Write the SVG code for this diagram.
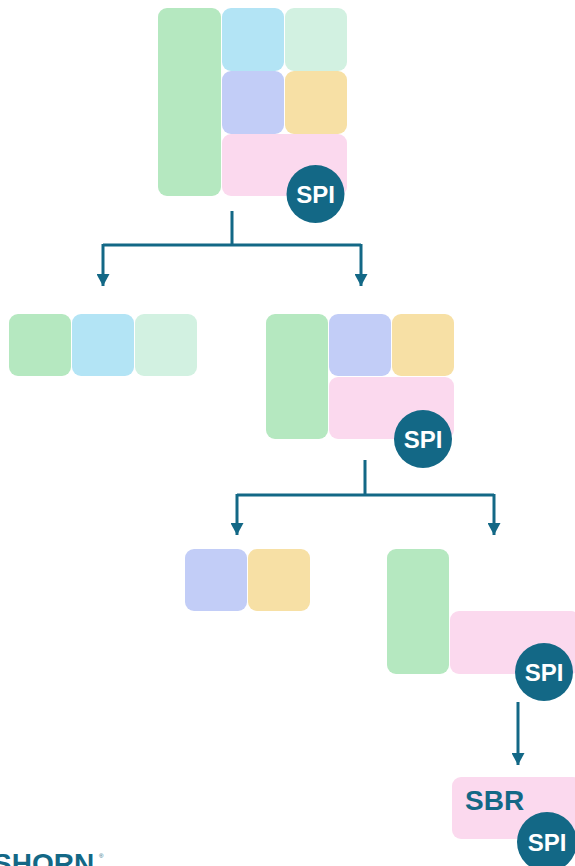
<svg xmlns="http://www.w3.org/2000/svg" width="575" height="866" viewBox="0 0 575 866">
<defs>
<style>
.g{fill:#b5e8c0}.b{fill:#b3e4f5}.l{fill:#d2f1e1}.p{fill:#c2cdf7}.o{fill:#f7e0a5}.k{fill:#fbd9ee}
.c{fill:#136886}
.t{font-family:"Liberation Sans",Arial,sans-serif;font-weight:bold;font-size:24px;fill:#ffffff;text-anchor:middle}
.e{fill:none;stroke:#136886;stroke-width:3}
</style>
<marker id="ah" markerWidth="12" markerHeight="13" refX="12" refY="6.5" orient="auto" markerUnits="userSpaceOnUse" viewBox="0 0 12 13">
<path d="M0,0 L12,6.5 L0,13 Z" fill="#136886"/>
</marker>
</defs>
<rect width="575" height="866" fill="#ffffff"/>
<g id="node-root">
<rect class="g" x="158" y="8" width="63" height="188" rx="9"/>
<rect class="b" x="222" y="8" width="62" height="63" rx="9"/>
<rect class="l" x="285" y="8" width="62" height="63" rx="9"/>
<rect class="p" x="222" y="71" width="62" height="63" rx="9"/>
<rect class="o" x="285" y="71" width="62" height="63" rx="9"/>
<rect class="k" x="222" y="134" width="125" height="62" rx="9"/>
<circle class="c" cx="315.5" cy="194" r="29"/>
<text class="t" x="315.5" y="202.5">SPI</text>
</g>
<g id="node-left1">
<rect class="g" x="9" y="314" width="62" height="62" rx="9"/>
<rect class="b" x="72" y="314" width="62" height="62" rx="9"/>
<rect class="l" x="135" y="314" width="62" height="62" rx="9"/>
</g>
<g id="node-right1">
<rect class="g" x="266" y="314" width="62" height="125" rx="9"/>
<rect class="p" x="329" y="314" width="62" height="62" rx="9"/>
<rect class="o" x="392" y="314" width="62" height="62" rx="9"/>
<rect class="k" x="329" y="377" width="125" height="62" rx="9"/>
<circle class="c" cx="423" cy="439" r="29"/>
<text class="t" x="423" y="447.5">SPI</text>
</g>
<g id="node-left2">
<rect class="p" x="185" y="549" width="62" height="62" rx="9"/>
<rect class="o" x="248" y="549" width="62" height="62" rx="9"/>
</g>
<g id="node-right2">
<rect class="g" x="387" y="549" width="62" height="125" rx="9"/>
<rect class="k" x="450" y="611" width="130" height="63" rx="9"/>
<circle class="c" cx="544" cy="672" r="29"/>
<text class="t" x="544" y="680.5">SPI</text>
</g>
<g id="node-sbr">
<rect class="k" x="452" y="777" width="130" height="62" rx="9"/>
<text x="465" y="810" font-family="'Liberation Sans',Arial,sans-serif" font-weight="bold" font-size="28" fill="#136886">SBR</text>
<circle class="c" cx="547" cy="842" r="30"/>
<text class="t" x="547" y="850.5">SPI</text>
</g>
<g id="logo">
<text x="-7" y="873" font-family="'Liberation Sans',Arial,sans-serif" font-weight="bold" font-size="28" fill="#136886">SHORN</text>
<text x="99" y="858" font-family="'Liberation Sans',Arial,sans-serif" font-size="6" fill="#136886">®</text>
</g>
<g id="connectors">
<path class="e" d="M232,211 V245 M103,245 H361"/>
<path class="e" d="M103,244 V286" marker-end="url(#ah)"/>
<path class="e" d="M361,244 V286" marker-end="url(#ah)"/>
<path class="e" d="M365,460 V495 M237,495 H494"/>
<path class="e" d="M237,494 V535" marker-end="url(#ah)"/>
<path class="e" d="M494,494 V535" marker-end="url(#ah)"/>
<path class="e" d="M518,702 V765" marker-end="url(#ah)"/>
</g>
</svg>
